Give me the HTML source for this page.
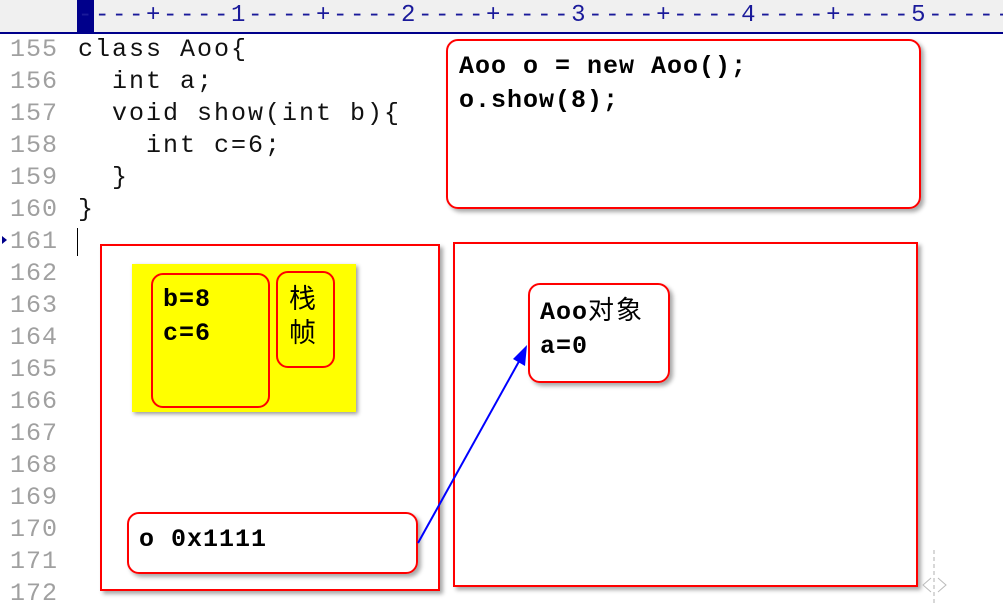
<!DOCTYPE html>
<html><head><meta charset="utf-8"><style>
body{margin:0;width:1003px;height:605px;overflow:hidden;background:#fff;position:relative;font-family:"Liberation Mono","Noto Sans CJK SC",monospace}
.ruler{position:absolute;left:0;top:0;width:1003px;height:32px;background:#f0f0f0;border-bottom:2px solid #00008b}
.rt{position:absolute;top:2px;left:78px;font-size:24px;color:#1a1a9a;letter-spacing:2.6px;white-space:pre;line-height:28px}
.code{position:absolute;font-size:25px;line-height:32px;letter-spacing:2px;white-space:pre;color:#111}
.num{color:#a0a0a0}
.b{position:absolute;border:2px solid #f00;box-sizing:border-box;box-shadow:3px 3px 4px rgba(0,0,0,.35)}
.r{border-radius:12px}
.t{position:absolute;font-weight:bold;font-size:25px;letter-spacing:1px;line-height:34px;color:#000;white-space:pre;font-family:"Liberation Mono","Noto Sans CJK SC",monospace}
.cj{font-family:'Noto Sans CJK SC',sans-serif;font-weight:normal;font-size:26px;letter-spacing:2px}
</style></head><body>
<div class="ruler"><div style="position:absolute;left:77px;top:0;width:17px;height:32px;background:#00008b"></div>
<div class="rt">----+----1----+----2----+----3----+----4----+----5-----</div></div>
<div class="code num" style="left:10px;top:34px;letter-spacing:1px">155
156
157
158
159
160
161
162
163
164
165
166
167
168
169
170
171
172</div>
<div style="position:absolute;left:2px;top:236px;width:0;height:0;border-left:5px solid #00008b;border-top:4px solid transparent;border-bottom:4px solid transparent"></div>
<div class="code" style="left:78px;top:34px">class Aoo{
  int a;
  void show(int b){
    int c=6;
  }
}</div>
<div style="position:absolute;left:77px;top:228px;width:1px;height:28px;background:#000"></div>

<div class="b r" style="left:446px;top:39px;width:475px;height:170px"></div>
<div class="t" style="left:459px;top:50px">Aoo o = new Aoo();
o.show(8);</div>

<div class="b" style="left:100px;top:244px;width:340px;height:347px"></div>
<div class="b" style="left:453px;top:242px;width:465px;height:345px"></div>

<div style="position:absolute;left:132px;top:264px;width:224px;height:148px;background:#ff0;box-shadow:2px 2px 4px rgba(0,0,0,.4)"></div>
<div class="b r" style="left:151px;top:273px;width:119px;height:135px;box-shadow:none"></div>
<div class="t" style="left:163px;top:283px;line-height:34px">b=8
c=6</div>
<div class="b r" style="left:276px;top:271px;width:59px;height:97px;box-shadow:none"></div>
<div style="position:absolute;left:289px;top:280px;font-size:27px;line-height:34px;font-family:'Noto Sans CJK SC',sans-serif">栈<br>帧</div>

<div class="b r" style="left:528px;top:283px;width:142px;height:100px"></div>
<div class="t" style="left:540px;top:292px">Aoo<span class="cj">对象</span>
a=0</div>

<div class="b r" style="left:127px;top:512px;width:291px;height:62px"></div>
<div class="t" style="left:139px;top:523px">o 0x1111</div>

<svg style="position:absolute;left:0;top:0" width="1003" height="605">
<line x1="418" y1="543" x2="522" y2="356" stroke="#00f" stroke-width="2"/>
<polygon points="527,345 525,366 513,359" fill="#00f"/>
<line x1="934" y1="550" x2="934" y2="604" stroke="#ccc" stroke-width="1.5" stroke-dasharray="4,3"/>
<polyline points="931,578 923,585 931,592" fill="none" stroke="#bbb"/>
<polyline points="938,578 946,585 938,592" fill="none" stroke="#bbb"/>
</svg>
</body></html>
